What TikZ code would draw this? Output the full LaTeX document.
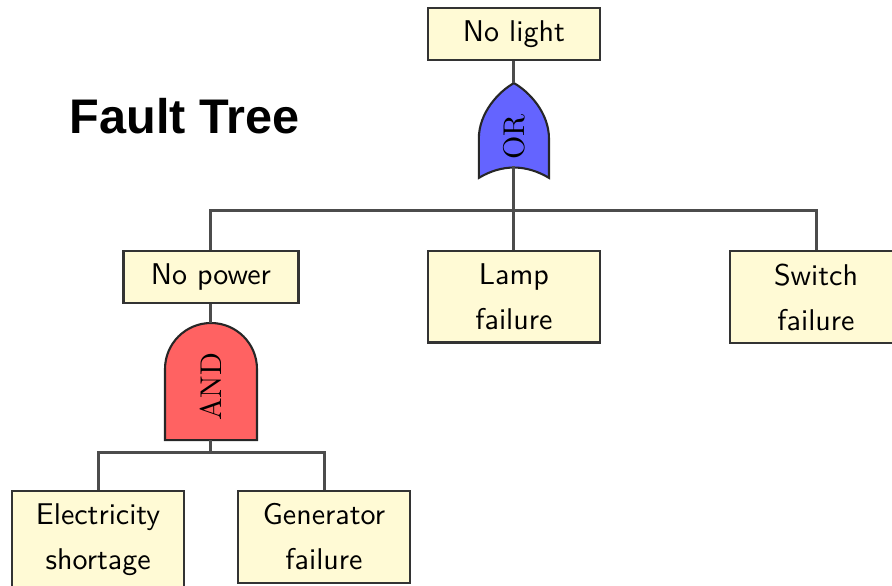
\documentclass[tikz,border=0pt]{standalone}
\usepackage{fontspec}
\newfontfamily\titlefont{Liberation Sans}
\definecolor{eventfill}{RGB}{255,250,213}
\definecolor{orfill}{RGB}{100,100,255}
\definecolor{andfill}{RGB}{255,98,98}
\tikzset{
  event/.style={draw=black!80,fill=eventfill,line width=0.8pt,align=center,
    font={\sffamily\linespread{1.25}\selectfont},minimum width=57.3pt,
    inner xsep=4pt,inner ysep=4.2pt,anchor=north},
  wire/.style={draw=black!70,line width=1pt},
  gate/.style={draw=black!85,line width=0.7pt}
}
\begin{document}
\begin{tikzpicture}[x=1pt,y=1pt]
  \useasboundingbox (0,0) rectangle (297.33,195);
  \node[font=\titlefont\bfseries\fontsize{16.2}{19}\selectfont,anchor=base] (title) at (61.5,150.6) {Fault Tree};
  % top event and OR gate
  \node[event] (nolight) at (171.3,192.7) {No light};
  \draw[gate,fill=orfill] (171.3,167.3) .. controls (166.3,164.5) and (159.6,157.5) .. (159.6,148.7)
    -- (159.6,135.7) .. controls (167.3,140.3) and (175.3,140.3) .. (183,135.7)
    -- (183,148.7) .. controls (183,157.5) and (176.3,164.5) .. (171.3,167.3) -- cycle;
  \node[rotate=90] (orgate) at (171.3,149.3) {OR};
  \coordinate (ortip) at (171.3,167.3);
  \coordinate (orbase) at (171.3,139.5);
  \coordinate (orjoin) at (171.3,124.7);
  % second level
  \node[event,minimum width=58.3pt] (nopower) at (70.3,111.7) {No power};
  \node[event] (lamp) at (171.3,111.7) {Lamp\\failure};
  \node[event] (switch) at (272,111.7) {Switch\\failure};
  % AND gate
  \draw[gate,fill=andfill] (55,48.3) -- (55,72) arc[start angle=180,end angle=0,radius=15.33]
    -- (85.67,48.3) -- cycle;
  \node[rotate=90] (andgate) at (70.3,66) {AND};
  \coordinate (andtop) at (70.3,87.3);
  \coordinate (andbase) at (70.3,48.3);
  \coordinate (andjoin) at (70.3,44.3);
  % basic events
  \node[event] (elec) at (32.7,31.7) {Electricity\\shortage};
  \node[event] (gen) at (108,31.7) {Generator\\failure};
  % connectors
  \draw[wire] (nolight.south) -- (ortip);
  \draw[wire] (orbase) -- (lamp.north);
  \draw[wire] (nopower.north) |- (orjoin) -| (switch.north);
  \draw[wire] (nopower.south) -- (andtop);
  \draw[wire] (andbase) -- (andjoin);
  \draw[wire] (elec.north) |- (andjoin) -| (gen.north);
\end{tikzpicture}
\end{document}
